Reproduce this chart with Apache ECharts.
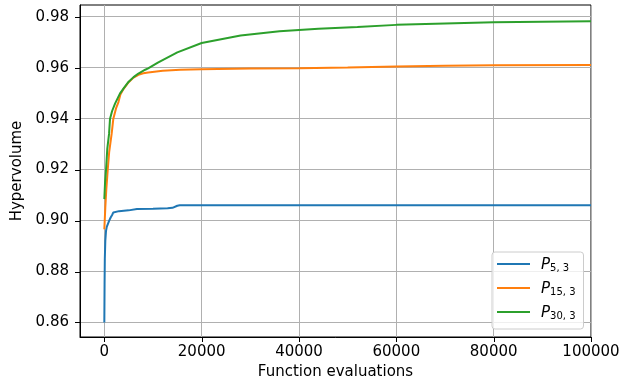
<!DOCTYPE html>
<html>
<head>
<meta charset="utf-8">
<script src="https://cdn.jsdelivr.net/npm/echarts@6/dist/echarts.min.js"></script>
<style>html,body{margin:0;padding:0;background:#fff}#c{width:629px;height:387px}</style>
</head>
<body>
<div id="c"></div>
<script>
const xTicks = [0, 20000, 40000, 60000, 80000, 100000];
const yTicks = [0.86, 0.88, 0.90, 0.92, 0.94, 0.96, 0.98];

const p5x = [0, 50, 100, 200, 350, 500, 700, 1000, 1300, 1600, 1850, 2100, 3000, 5000, 6700, 10000, 13000, 14000, 14300, 15000, 15500, 100000];
const p5y = [0.86, 0.875, 0.885, 0.892, 0.896, 0.8975, 0.898, 0.9, 0.9012, 0.9022, 0.9032, 0.9036, 0.9037, 0.904, 0.9045, 0.9046, 0.9048, 0.905, 0.9056, 0.9058, 0.906, 0.906];

const p15x = [0, 200, 400, 700, 1000, 1500, 1850, 2400, 2900, 3300, 4000, 5000, 6000, 7000, 8000, 9000, 12000, 15600, 20000, 30000, 40000, 50000, 60000, 70000, 80000, 100000];
const p15y = [0.8966, 0.905, 0.912, 0.92, 0.927, 0.934, 0.94, 0.944, 0.9465, 0.9495, 0.9518, 0.9543, 0.9561, 0.9572, 0.9578, 0.9581, 0.9588, 0.9592, 0.9594, 0.9597, 0.9598, 0.9601, 0.9605, 0.9608, 0.961, 0.9611];

const p30x = [0, 150, 350, 600, 970, 1170, 1600, 2200, 3200, 4000, 5000, 6000, 7000, 8400, 9000, 11000, 15000, 20000, 28000, 36000, 44000, 52000, 60000, 70000, 80000, 90000, 100000];
const p30y = [0.9084, 0.915, 0.92, 0.928, 0.934, 0.94, 0.943, 0.9459, 0.9498, 0.952, 0.9545, 0.9563, 0.9577, 0.9592, 0.9597, 0.962, 0.966, 0.9697, 0.9726, 0.9743, 0.9753, 0.976, 0.9768, 0.9773, 0.9778, 0.978, 0.9782];

const names = ['P5,3', 'P15,3', 'P30,3'];
const subs = {'P5,3': '5, 3', 'P15,3': '15, 3', 'P30,3': '30, 3'};
const colors = ['#1f77b4', '#ff7f0e', '#2ca02c'];

const X_MIN = -5000, X_MAX = 100000, Y_MIN = 0.8543, Y_MAX = 0.9846;

const pairs = (xs, ys) => xs.map((x, i) => [x, ys[i]]);
const font = 'DejaVu Sans';
const fs = 15;

const chart = echarts.init(document.getElementById('c'), null, {renderer: 'canvas'});
chart.setOption({
  animation: false,
  color: colors,
  grid: {left: 80, top: 5, right: 38, bottom: 50, show: true, borderColor: '#000', borderWidth: 1, backgroundColor: 'transparent'},
  xAxis: {
    type: 'value', min: X_MIN, max: X_MAX,
    name: 'Function evaluations', nameLocation: 'middle', nameGap: 28,
    nameTextStyle: {fontFamily: font, fontSize: fs, color: '#000'},
    axisLine: {show: true, onZero: false, lineStyle: {color: '#000', width: 1}},
    axisTick: {show: false, customValues: xTicks},
    axisLabel: {fontFamily: font, fontSize: fs, color: '#000', margin: 8, customValues: xTicks, formatter: v => String(v)},
    splitLine: {show: true, lineStyle: {color: '#b0b0b0', width: 1}}
  },
  yAxis: {
    type: 'value', min: Y_MIN, max: Y_MAX,
    name: 'Hypervolume', nameLocation: 'middle', nameGap: 48,
    nameTextStyle: {fontFamily: font, fontSize: fs, color: '#000'},
    axisLine: {show: true, onZero: false, lineStyle: {color: '#000', width: 1}},
    axisTick: {show: false, customValues: yTicks},
    axisLabel: {fontFamily: font, fontSize: fs, color: '#000', margin: 11, customValues: yTicks, formatter: v => v.toFixed(2)},
    splitLine: {show: true, lineStyle: {color: '#b0b0b0', width: 1}}
  },
  legend: {
    orient: 'vertical', left: 492, top: 252,
    data: names,
    icon: 'rect', itemWidth: 33, itemHeight: 2, itemGap: 9,
    padding: [6, 8, 8, 5],
    backgroundColor: 'rgba(255,255,255,0.8)', borderColor: '#cccccc', borderWidth: 1, borderRadius: 3,
    formatter: n => '{p|P}{s|' + subs[n] + '}',
    textStyle: {
      padding: [0, 0, 0, 6],
      rich: {
        p: {fontFamily: font, fontStyle: 'italic', fontSize: fs, color: '#000', lineHeight: 18, verticalAlign: 'bottom'},
        s: {fontFamily: font, fontSize: 10, color: '#000', lineHeight: 12, verticalAlign: 'bottom'}
      }
    }
  },
  series: [
    {name: names[0], type: 'line', data: pairs(p5x, p5y), symbol: 'none', showSymbol: false, lineStyle: {width: 2}, z: 3},
    {name: names[1], type: 'line', data: pairs(p15x, p15y), symbol: 'none', showSymbol: false, lineStyle: {width: 2}, z: 4},
    {name: names[2], type: 'line', data: pairs(p30x, p30y), symbol: 'none', showSymbol: false, lineStyle: {width: 2}, z: 5}
  ]
});

// Tick marks as small filled rects, placed through the chart's own axis scales.
const tickEls = [];
xTicks.forEach(v => {
  const p = chart.convertToPixel({xAxisIndex: 0, yAxisIndex: 0}, [v, Y_MIN]);
  const x = Math.round(p[0]), y = Math.round(p[1]);
  tickEls.push({type: 'rect', z: 100, silent: true, shape: {x: x, y: y, width: 1, height: 5}, style: {fill: '#000'}});
});
yTicks.forEach(v => {
  const p = chart.convertToPixel({xAxisIndex: 0, yAxisIndex: 0}, [X_MIN, v]);
  const x = Math.round(p[0]), y = Math.round(p[1]);
  tickEls.push({type: 'rect', z: 100, silent: true, shape: {x: x - 5, y: y, width: 5, height: 1}, style: {fill: '#000'}});
});
chart.setOption({graphic: {elements: tickEls}});
</script>
</body>
</html>
